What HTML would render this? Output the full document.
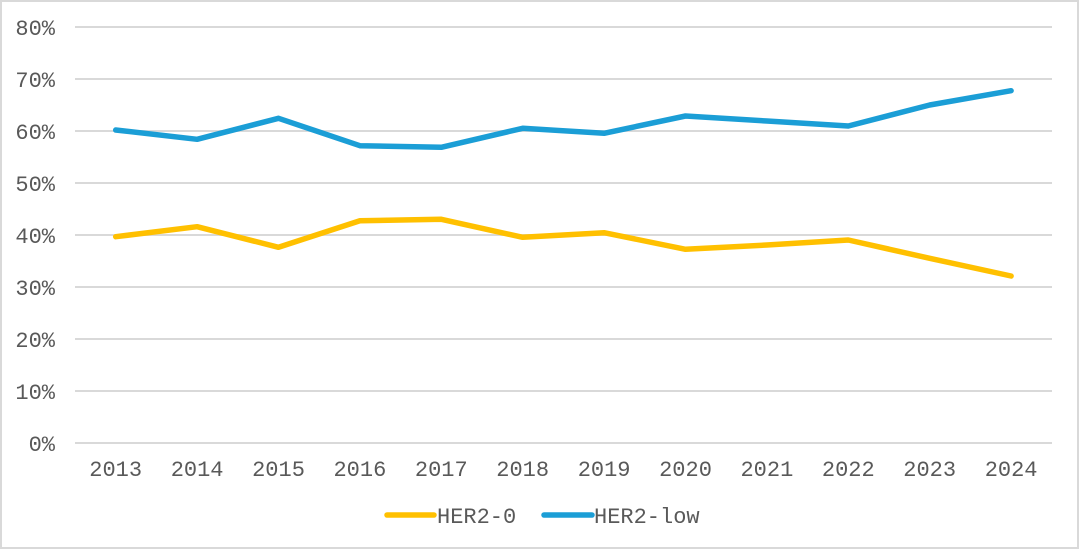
<!DOCTYPE html>
<html>
<head>
<meta charset="utf-8">
<style>
  html,body{margin:0;padding:0;background:#fff;}
  svg{display:block;}
  text{font-family:"Liberation Mono","Courier New",monospace;font-size:22px;fill:#595959;}
</style>
</head>
<body>
<svg width="1080" height="550" viewBox="0 0 1080 550" xmlns="http://www.w3.org/2000/svg">
  <rect x="1" y="1" width="1077" height="547" fill="#fff" stroke="#d9d9d9" stroke-width="2"/>
  <g stroke="#d9d9d9" stroke-width="2">
    <line x1="75" y1="27" x2="1052" y2="27"/>
    <line x1="75" y1="79" x2="1052" y2="79"/>
    <line x1="75" y1="131" x2="1052" y2="131"/>
    <line x1="75" y1="183" x2="1052" y2="183"/>
    <line x1="75" y1="235" x2="1052" y2="235"/>
    <line x1="75" y1="287" x2="1052" y2="287"/>
    <line x1="75" y1="339" x2="1052" y2="339"/>
    <line x1="75" y1="391" x2="1052" y2="391"/>
    <line x1="75" y1="443" x2="1052" y2="443"/>
  </g>
  <g text-anchor="end">
    <text x="55" y="35">80%</text>
    <text x="55" y="87">70%</text>
    <text x="55" y="139">60%</text>
    <text x="55" y="191">50%</text>
    <text x="55" y="243">40%</text>
    <text x="55" y="295">30%</text>
    <text x="55" y="347">20%</text>
    <text x="55" y="399">10%</text>
    <text x="55" y="451">0%</text>
  </g>
  <g text-anchor="middle">
    <text x="115.7" y="476">2013</text>
    <text x="197.1" y="476">2014</text>
    <text x="278.5" y="476">2015</text>
    <text x="359.9" y="476">2016</text>
    <text x="441.3" y="476">2017</text>
    <text x="522.7" y="476">2018</text>
    <text x="604.1" y="476">2019</text>
    <text x="685.5" y="476">2020</text>
    <text x="766.9" y="476">2021</text>
    <text x="848.3" y="476">2022</text>
    <text x="929.7" y="476">2023</text>
    <text x="1011.1" y="476">2024</text>
  </g>
  <polyline fill="none" stroke="#FFC000" stroke-width="5.5" stroke-linecap="round" stroke-linejoin="round"
    points="115.7,236.7 197.1,226.7 278.5,247.3 359.9,220.7 441.3,219.3 522.7,237.3 604.1,232.7 685.5,249.3 766.9,245 848.3,240 929.7,258.3 1011.1,276"/>
  <polyline fill="none" stroke="#1B9ED6" stroke-width="5.5" stroke-linecap="round" stroke-linejoin="round"
    points="115.7,130 197.1,139.3 278.5,118.3 359.9,145.7 441.3,147.3 522.7,128.3 604.1,133.3 685.5,116 766.9,121 848.3,126 929.7,105 1011.1,90.7"/>
  <line x1="387" y1="515" x2="434" y2="515" stroke="#FFC000" stroke-width="5.5" stroke-linecap="round"/>
  <text x="437" y="523">HER2-0</text>
  <line x1="544" y1="515" x2="592" y2="515" stroke="#1B9ED6" stroke-width="5.5" stroke-linecap="round"/>
  <text x="594" y="523">HER2-low</text>
</svg>
</body>
</html>
